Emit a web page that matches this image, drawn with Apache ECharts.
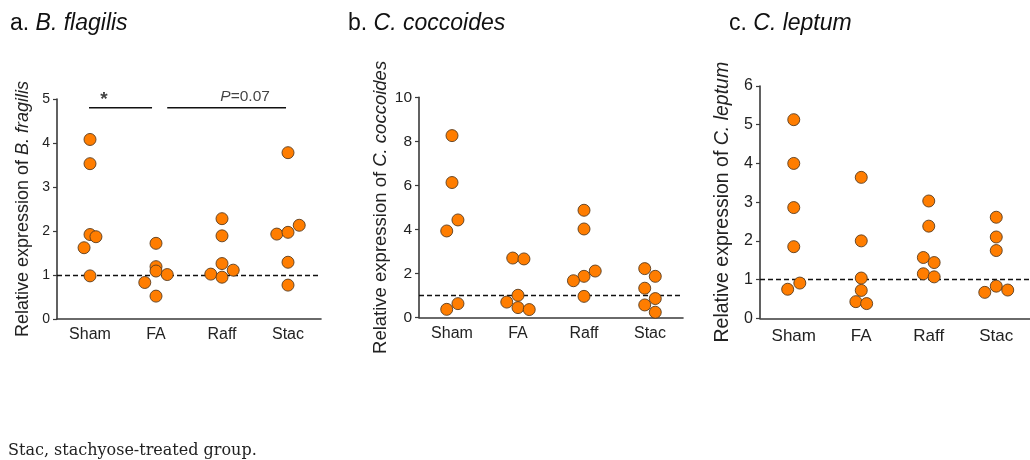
<!DOCTYPE html>
<html>
<head>
<meta charset="utf-8">
<script src="https://cdn.jsdelivr.net/npm/echarts@6/dist/echarts.min.js"></script>
<style>
html,body{margin:0;padding:0;background:#fff;}
#c{width:1030px;height:460px;}
</style>
</head>
<body>
<div id="c"></div>
<script>
// ---- data ----
const categories = ['Sham', 'FA', 'Raff', 'Stac'];

// panel a: B. fragilis
const aSham = [4.08, 3.53, 1.62, 1.92, 1.87, 0.98];
const aFA   = [1.72, 1.19, 1.09, 1.01, 0.83, 0.52];
const aRaff = [2.28, 1.89, 1.26, 1.11, 1.02, 0.95];
const aStac = [3.78, 1.93, 1.97, 2.13, 1.29, 0.77];
const aShamJit = [0, 0, -0.09, 0, 0.09, 0];
const aFAJit   = [0, 0, 0, 0.17, -0.17, 0];
const aRaffJit = [0, 0, 0, 0.17, -0.17, 0];
const aStacJit = [0, -0.17, 0, 0.17, 0, 0];

// panel b: C. coccoides
const bSham = [8.26, 6.13, 4.43, 3.93, 0.63, 0.37];
const bFA   = [2.70, 2.66, 1.01, 0.70, 0.45, 0.36];
const bRaff = [4.87, 4.02, 2.11, 1.87, 1.67, 0.96];
const bStac = [2.22, 1.87, 1.33, 0.86, 0.57, 0.24];
const bShamJit = [0, 0, 0.09, -0.08, 0.09, -0.08];
const bFAJit   = [-0.08, 0.09, 0, -0.17, 0, 0.17];
const bRaffJit = [0, 0, 0.17, 0, -0.16, 0];
const bStacJit = [-0.08, 0.08, -0.08, 0.08, -0.08, 0.08];

// panel c: C. leptum
const cSham = [5.13, 4.00, 2.86, 1.85, 0.91, 0.75];
const cFA   = [3.64, 2.00, 1.04, 0.72, 0.43, 0.38];
const cRaff = [3.03, 2.38, 1.57, 1.44, 1.15, 1.07];
const cStac = [2.61, 2.10, 1.75, 0.67, 0.83, 0.73];
const cShamJit = [0, 0, 0, 0, 0.09, -0.09];
const cFAJit   = [0, 0, 0, 0, -0.08, 0.08];
const cRaffJit = [0, 0, -0.08, 0.08, -0.08, 0.08];
const cStacJit = [0, 0, 0, -0.17, 0, 0.17];

// y-axis ranges
const yMaxA = 5, yStepA = 1;
const yMaxB = 10, yStepB = 2;
const yMaxC = 6, yStepC = 1;
const refLevel = 1;

// significance annotations (panel a), in category units / y values
const sigLine1 = [[0.485, 4.8], [1.44, 4.8]];
const sigLine2 = [[1.67, 4.8], [3.47, 4.8]];
const sigText1 = { x: 0.71, y: 4.8, text: '*' };
const sigText2 = { x: 2.85, y: 4.8, text: 'P=0.07' };

// ---- build ----
const FONT = '"Liberation Sans", Arial, sans-serif';
const AXIS_COLOR = '#3a3a3a';
const TEXT_COLOR = '#222';

function pts(vals, jit, idx) {
  return vals.map((v, k) => [idx + 0.5 + jit[k], v]);
}

const grids = [
  { left: 57, right: 709, top: 99, bottom: 141 },
  { left: 419, right: 347, top: 97.3, bottom: 142.5 },
  { left: 760, right: -10, top: 86, bottom: 141.7 }
];

const xLabelSize = [16, 16, 17];
const xLabelMargin = [8, 8, 10];
const yLabelSize = [14, 15.5, 16];
const yNameSize = [18, 18.5, 19.5];
const yNameGap = [25, 27, 27];
const yMax = [yMaxA, yMaxB, yMaxC];
const yStep = [yStepA, yStepB, yStepC];
const yItal = ['B. fragilis', 'C. coccoides', 'C. leptum'];

const xAxes = [], yAxes = [];
for (let g = 0; g < 3; g++) {
  xAxes.push({
    type: 'category', gridIndex: g, data: categories, boundaryGap: true,
    axisLine: { lineStyle: { color: AXIS_COLOR, width: 1.6 } },
    axisTick: { alignWithLabel: true, length: 4, lineStyle: { color: AXIS_COLOR, width: 1.2 } },
    axisLabel: { color: TEXT_COLOR, fontFamily: FONT, fontSize: xLabelSize[g], margin: xLabelMargin[g] },
    splitLine: { show: false }
  });
  xAxes.push({
    type: 'value', gridIndex: g, min: 0, max: 4, show: false
  });
  yAxes.push({
    type: 'value', gridIndex: g, min: 0, max: yMax[g], interval: yStep[g],
    name: '{n|Relative expression of }{i|' + yItal[g] + '}',
    nameLocation: 'middle', nameGap: yNameGap[g], nameRotate: 90,
    nameTextStyle: {
      rich: {
        n: { fontFamily: FONT, fontSize: yNameSize[g], color: TEXT_COLOR },
        i: { fontFamily: FONT, fontSize: yNameSize[g], color: TEXT_COLOR, fontStyle: 'italic' }
      }
    },
    axisLine: { show: true, lineStyle: { color: AXIS_COLOR, width: 1.6 } },
    axisTick: { show: true, length: 4, lineStyle: { color: AXIS_COLOR, width: 1.2 } },
    axisLabel: { color: TEXT_COLOR, fontFamily: FONT, fontSize: yLabelSize[g], margin: 7 },
    splitLine: { show: false }
  });
}

const dotStyle = { color: '#ff7d00', borderColor: '#5a3c1e', borderWidth: 0.9, opacity: 1 };

function dots(g, data, withRef) {
  const s = {
    type: 'scatter', xAxisIndex: g * 2 + 1, yAxisIndex: g,
    data: data, symbol: 'circle', symbolSize: 12, itemStyle: dotStyle, z: 5,
    silent: true
  };
  if (withRef) {
    s.markLine = {
      silent: true, symbol: 'none', animation: false,
      label: { show: false },
      lineStyle: { color: '#111', type: [5, 3], width: 1.3 },
      data: [{ yAxis: refLevel }],
      z: 3
    };
  }
  return s;
}

const panels = [
  [aSham, aShamJit, aFA, aFAJit, aRaff, aRaffJit, aStac, aStacJit],
  [bSham, bShamJit, bFA, bFAJit, bRaff, bRaffJit, bStac, bStacJit],
  [cSham, cShamJit, cFA, cFAJit, cRaff, cRaffJit, cStac, cStacJit]
];

const series = [];
panels.forEach((p, g) => {
  const all = [].concat(pts(p[0], p[1], 0), pts(p[2], p[3], 1), pts(p[4], p[5], 2), pts(p[6], p[7], 3));
  series.push(dots(g, all, true));
});

[sigLine1, sigLine2].forEach(l => {
  series.push({
    type: 'line', xAxisIndex: 1, yAxisIndex: 0, data: l, symbol: 'none',
    lineStyle: { color: '#111', width: 1.5 }, silent: true, animation: false
  });
});
series.push({
  type: 'scatter', xAxisIndex: 1, yAxisIndex: 0, symbolSize: 0, silent: true,
  data: [[sigText1.x, sigText1.y]],
  label: { show: true, position: 'top', distance: -1, formatter: sigText1.text,
    fontFamily: FONT, fontSize: 19, fontWeight: 'bold', color: '#111' }
});
series.push({
  type: 'scatter', xAxisIndex: 1, yAxisIndex: 0, symbolSize: 0, silent: true,
  data: [[sigText2.x, sigText2.y]],
  label: { show: true, position: 'top', distance: 3,
    formatter: '{i|P}{n|=0.07}',
    rich: {
      i: { fontFamily: FONT, fontSize: 15.5, color: '#111', fontStyle: 'italic' },
      n: { fontFamily: FONT, fontSize: 15.5, color: '#111' }
    } }
});

function ttl(left, a, b) {
  return {
    text: '{n|' + a + '}{i|' + b + '}', left: left, top: 7,
    textStyle: { fontWeight: 'normal', rich: {
      n: { fontFamily: FONT, fontSize: 23, color: '#111', fontWeight: 'normal' },
      i: { fontFamily: FONT, fontSize: 23, color: '#111', fontStyle: 'italic', fontWeight: 'normal' }
    } }
  };
}

const option = {
  backgroundColor: '#fff',
  animation: false,
  title: [
    ttl(5, 'a. ', 'B. flagilis'),
    ttl(343, 'b. ', 'C. coccoides'),
    ttl(724, 'c. ', 'C. leptum'),
    { text: 'Stac, stachyose-treated group.', left: 3, top: 438,
      textStyle: { fontFamily: '"DejaVu Serif", serif', fontSize: 16, fontWeight: 'normal', color: '#222' } }
  ],
  grid: grids,
  xAxis: xAxes,
  yAxis: yAxes,
  series: series
};

const chart = echarts.init(document.getElementById('c'), null, { renderer: 'canvas' });
chart.setOption(option);
</script>
</body>
</html>
